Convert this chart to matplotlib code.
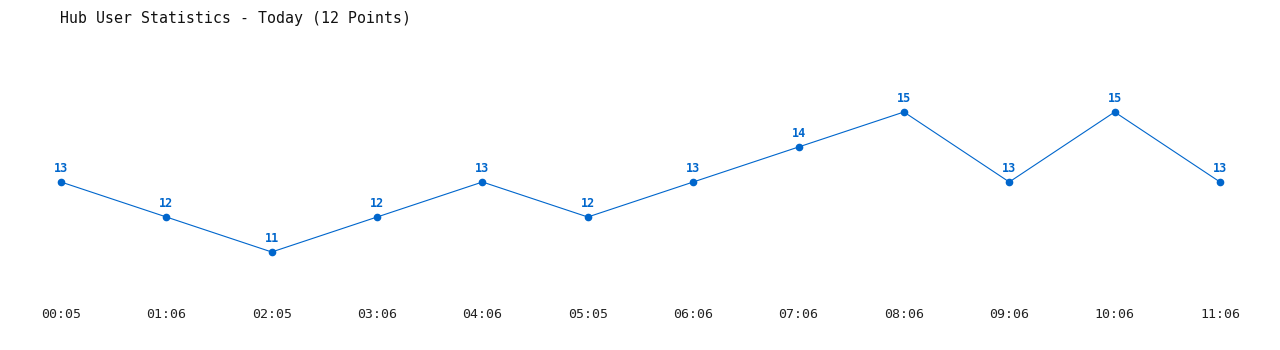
import matplotlib
matplotlib.use('Agg')
from matplotlib import pyplot as plt

times = ['00:05', '01:06', '02:05', '03:06', '04:06', '05:05',
         '06:06', '07:06', '08:06', '09:06', '10:06', '11:06']
users = [13, 12, 11, 12, 13, 12, 13, 14, 15, 13, 15, 13]

blue = '#0066cc'
mono = 'DejaVu Sans Mono'

fig = plt.figure(figsize=(12.8, 3.5), dpi=100)
# axes placed so that the points land where the reference has them
ax = fig.add_axes([61 / 1280, 1 - 287 / 350, (1220 - 61) / 1280, 210 / 350])
xs = list(range(len(users)))
ax.plot(xs, users, color=blue, linewidth=0.8, marker='o', markersize=4.5,
        clip_on=False)
ax.set_xlim(0, len(users) - 1)
ax.set_ylim(10, 16)

for x, v in zip(xs, users):
    ax.annotate(str(v), (x, v), xytext=(0, 5), textcoords='offset points',
                ha='center', va='bottom', color=blue, fontsize=8.5,
                fontweight='bold', family=mono)

for side in ax.spines.values():
    side.set_visible(False)
ax.set_yticks([])
ax.set_xticks(xs)
ax.set_xticklabels(times, family=mono, fontsize=9.5, color='#222222')
ax.tick_params(axis='x', length=0, pad=15)

fig.text(60 / 1280, 1 - 18 / 350, 'Hub User Statistics - Today (12 Points)',
         family=mono, fontsize=10.7, va='center', ha='left', color='#111111')

fig.savefig('out.png', dpi=100)
